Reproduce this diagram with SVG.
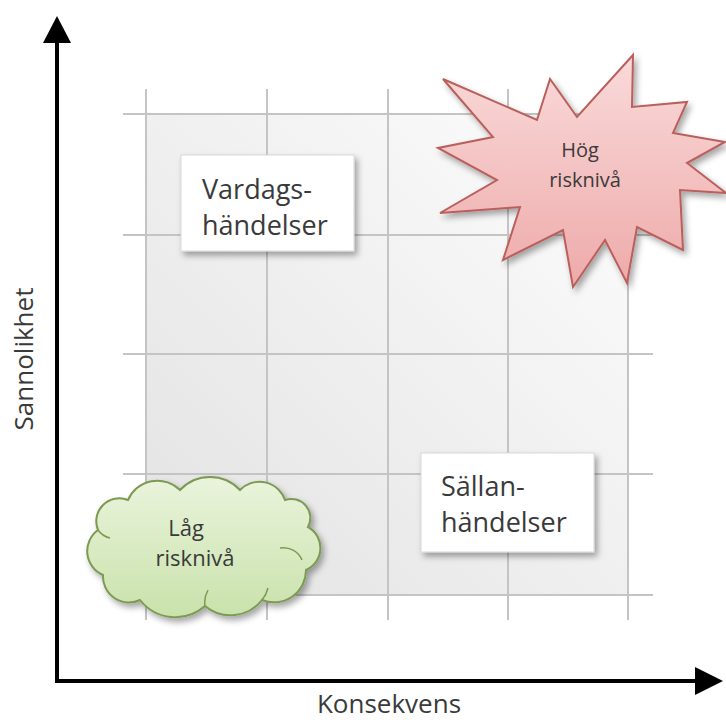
<svg xmlns="http://www.w3.org/2000/svg" width="726" height="722" viewBox="0 0 726 722">
<defs>
<style>
.grid{stroke:#c4c4c4;stroke-width:2;fill:none}
.axis{stroke:#000;stroke-width:4;fill:none}
.lbl{font-family:"Open Sans","Liberation Sans",sans-serif;fill:#3a3a3a}
.box{fill:#fff;stroke:#d8d8d8;stroke-width:1}
</style>
<linearGradient id="bg" x1="0" y1="1" x2="1" y2="0">
<stop offset="0" stop-color="#e2e2e2"/>
<stop offset="1" stop-color="#fdfdfd"/>
</linearGradient>
<linearGradient id="pink" x1="0" y1="0" x2="0" y2="1">
<stop offset="0" stop-color="#fadada"/>
<stop offset="1" stop-color="#eeaaaa"/>
</linearGradient>
<linearGradient id="green" x1="0" y1="0" x2="0" y2="1">
<stop offset="0" stop-color="#eaf4dc"/>
<stop offset="1" stop-color="#c9e2ab"/>
</linearGradient>
<filter id="sh" x="-20%" y="-20%" width="150%" height="150%">
<feDropShadow dx="3" dy="4" stdDeviation="3" flood-color="#000" flood-opacity="0.35"/>
</filter>
</defs>

<g id="grid-bg">
<rect x="146" y="114" width="482" height="481" fill="url(#bg)"/>
</g>
<g id="grid" class="grid">
<line x1="146" y1="89" x2="146" y2="620"/>
<line x1="267" y1="89" x2="267" y2="620"/>
<line x1="388" y1="89" x2="388" y2="620"/>
<line x1="508" y1="89" x2="508" y2="620"/>
<line x1="628" y1="89" x2="628" y2="620"/>
<line x1="123" y1="114" x2="653" y2="114"/>
<line x1="123" y1="235" x2="653" y2="235"/>
<line x1="123" y1="354" x2="653" y2="354"/>
<line x1="123" y1="474" x2="653" y2="474"/>
<line x1="123" y1="595" x2="653" y2="595"/>
</g>

<g id="connectors">
<line class="axis" x1="57" y1="683" x2="57" y2="40"/>
<polygon points="57,16 43,43 71,43" fill="#000"/>
<line class="axis" x1="55" y1="681" x2="698" y2="681"/>
<polygon points="723,681 695,667 695,695" fill="#000"/>
</g>

<g id="axis-y-label">
<text class="lbl" font-size="26" text-anchor="middle" transform="translate(33,359) rotate(-90)">Sannolikhet</text>
</g>
<g id="axis-x-label">
<text class="lbl" font-size="26" x="389" y="713" text-anchor="middle">Konsekvens</text>
</g>

<g id="vardags">
<rect class="box" x="181" y="155" width="173" height="96" filter="url(#sh)"/>
<text class="lbl" font-size="27" x="202" y="199">Vardags-</text>
<text class="lbl" font-size="27" x="202" y="235">händelser</text>
</g>

<g id="sallan">
<rect class="box" x="421" y="453" width="173" height="99" filter="url(#sh)"/>
<text class="lbl" font-size="27" x="441" y="496">Sällan-</text>
<text class="lbl" font-size="27" x="441" y="532">händelser</text>
</g>

<g id="hog">
<polygon points="443,79 537,120 550,79 577,117 633,55 632,107 687,102 673,133 725,142 687,163 726,193 680,190 683,250 637,227 627,283 605,240 573,287 563,230 503,260 520,207 440,213 497,180 438,148 493,137" fill="url(#pink)" stroke="#b9605c" stroke-width="2" stroke-linejoin="miter" filter="url(#sh)"/>
<text class="lbl" font-size="20" x="580" y="157" text-anchor="middle">Hög</text>
<text class="lbl" font-size="20" x="585" y="187" text-anchor="middle">risknivå</text>
</g>

<g id="lag">
<path d="M98 530 A23 23 0 0 1 128 500 A32 32 0 0 1 180 490 A41 41 0 0 1 240 490 A27 27 0 0 1 285 500 A19 19 0 0 1 308 527 A24 24 0 0 1 306 570 A32 32 0 0 1 262 600 A40 40 0 0 1 205 606 A45 45 0 0 1 140 600 A26 26 0 0 1 103 575 A26 26 0 0 1 98 530 Z" fill="url(#green)" stroke="#7b9a52" stroke-width="2" filter="url(#sh)"/>
<path d="M280 548 A20 20 0 0 1 302 560 M205 606 A25 25 0 0 1 208 590 M98 530 A20 20 0 0 0 110 538 M262 600 A30 30 0 0 0 268 588" fill="none" stroke="#7b9a52" stroke-width="1.5"/>
<text class="lbl" font-size="22" x="186" y="536" text-anchor="middle">Låg</text>
<text class="lbl" font-size="22" x="195" y="566" text-anchor="middle">risknivå</text>
</g>
</svg>
